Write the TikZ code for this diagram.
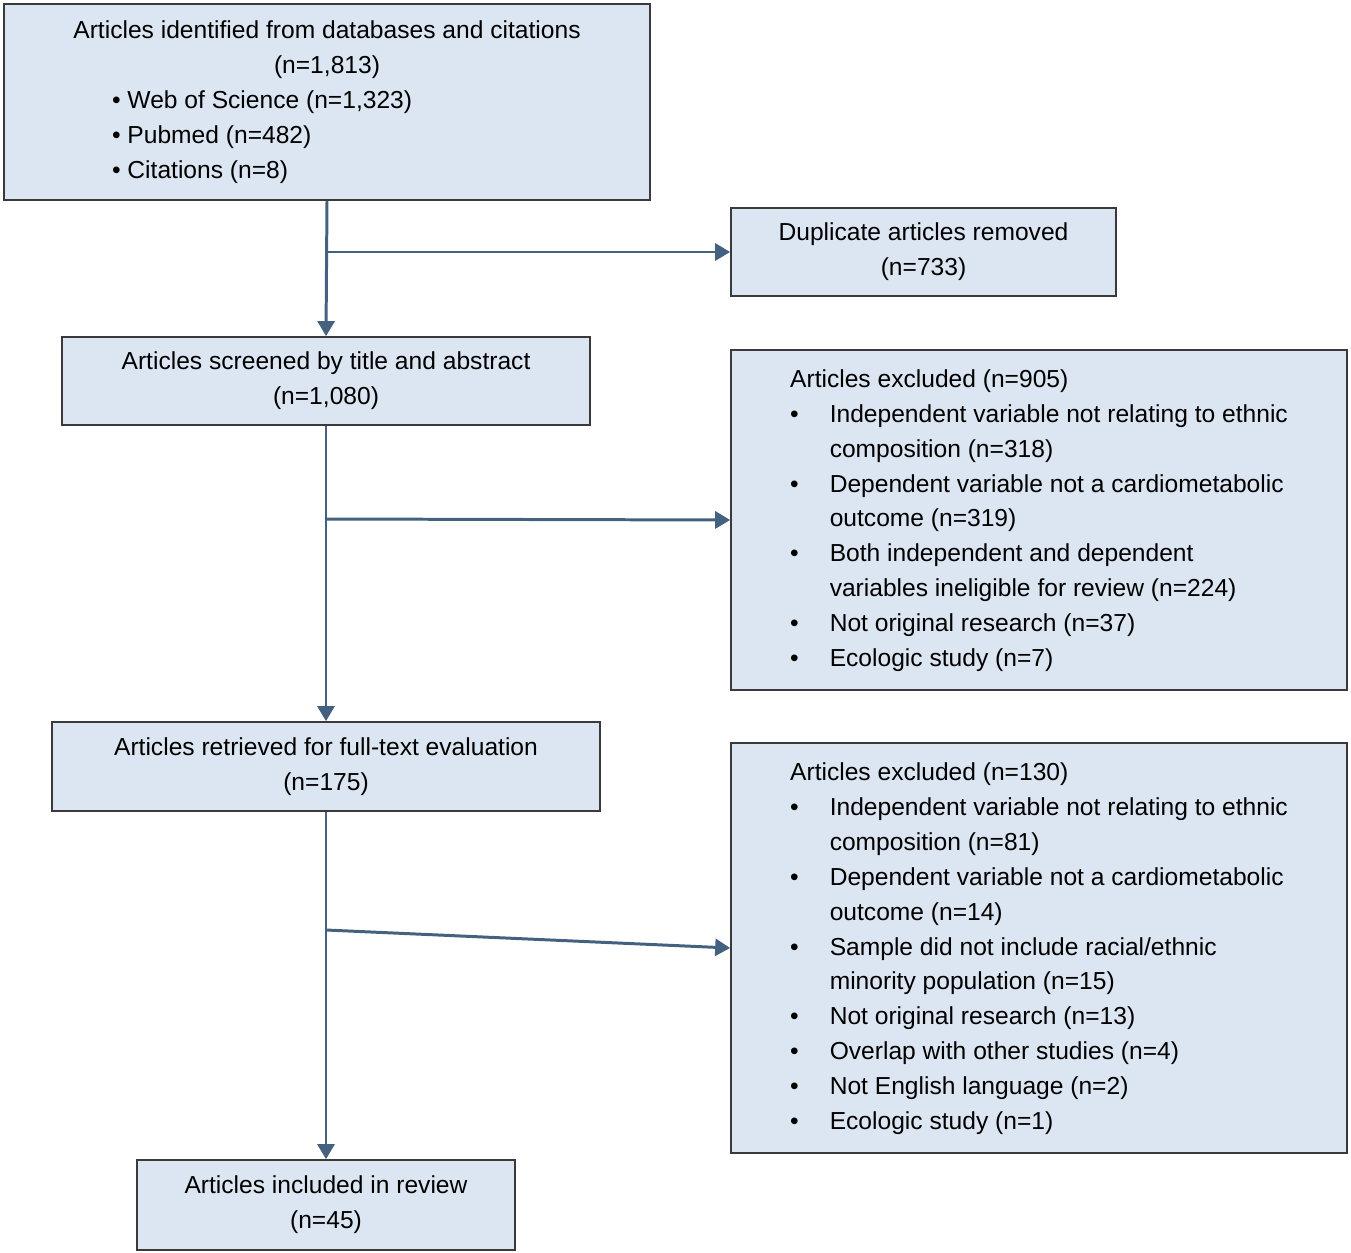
\documentclass[tikz,border=0pt]{standalone}
\usepackage{fontspec}
\setmainfont{Liberation Sans}
\usetikzlibrary{arrows.meta}
\definecolor{boxfill}{HTML}{DCE6F2}
\definecolor{boxline}{HTML}{3A3A3A}
\definecolor{flowline}{HTML}{44627F}
\newcommand{\exclbox}[2]{\renewcommand\arraystretch{1}%
  \begin{tabular}{@{}l@{\hspace{0.62cm}}l@{}}\multicolumn{2}{@{}l}{#1}\\#2\end{tabular}}
\begin{document}
\begin{tikzpicture}[x=0.02cm,y=-0.02cm]
  \tikzstyle{flow_box}   = [shape = rectangle, draw = boxline, fill = boxfill, line width=1pt, inner sep=0pt,
                            font=\fontsize{14}{19.9}\selectfont, align=center]
  \tikzstyle{flow_arrow} = [draw = flowline, line width=1.7pt, -{Triangle[width=0.34cm,length=0.3cm]}]

  \useasboundingbox (0,0) rectangle (1351,1253);

  \node[flow_box, minimum width=12.92cm, minimum height=3.92cm] at (327,102) (ident)
    {Articles identified from databases and citations\\
     (n=1,813)\\
     \makebox[12.5cm][l]{\hspace{1.95cm}\textbullet\ Web of Science (n=1,323)}\\
     \makebox[12.5cm][l]{\hspace{1.95cm}\textbullet\ Pubmed (n=482)}\\
     \makebox[12.5cm][l]{\hspace{1.95cm}\textbullet\ Citations (n=8)}};

  \node[flow_box, minimum width=7.7cm, minimum height=1.76cm] at (923.5,252) (dupl)
    {Duplicate articles removed\\(n=733)};

  \node[flow_box, minimum width=10.56cm, minimum height=1.76cm] at (326,381) (screen)
    {Articles screened by title and abstract\\(n=1,080)};

  \node[flow_box, minimum width=12.32cm, minimum height=6.8cm] at (1039,520) (excl_a)
    {\exclbox{Articles excluded (n=905)}{%
      \textbullet & Independent variable not relating to ethnic\\
                  & composition (n=318)\\
      \textbullet & Dependent variable not a cardiometabolic\\
                  & outcome (n=319)\\
      \textbullet & Both independent and dependent\\
                  & variables ineligible for review (n=224)\\
      \textbullet & Not original research (n=37)\\
      \textbullet & Ecologic study (n=7)}};

  \node[flow_box, minimum width=10.96cm, minimum height=1.78cm] at (326,766.5) (fulltext)
    {Articles retrieved for full-text evaluation\\(n=175)};

  \node[flow_box, minimum width=12.32cm, minimum height=8.2cm] at (1039,948) (excl_b)
    {\exclbox{Articles excluded (n=130)}{%
      \textbullet & Independent variable not relating to ethnic\\
                  & composition (n=81)\\
      \textbullet & Dependent variable not a cardiometabolic\\
                  & outcome (n=14)\\
      \textbullet & Sample did not include racial/ethnic\\
                  & minority population (n=15)\\
      \textbullet & Not original research (n=13)\\
      \textbullet & Overlap with other studies (n=4)\\
      \textbullet & Not English language (n=2)\\
      \textbullet & Ecologic study (n=1)}};

  \node[flow_box, minimum width=7.56cm, minimum height=1.8cm] at (326,1205) (incl)
    {Articles included in review\\(n=45)};

  \coordinate (br1) at (326,252);
  \coordinate (br2) at (326,519);
  \coordinate (br3) at (326,930);

  \draw[flow_arrow] (ident.south)    -- (screen.north);
  \draw[flow_arrow] (screen.south)   -- (fulltext.north);
  \draw[flow_arrow] (fulltext.south) -- (incl.north);
  \draw[flow_arrow] (br1) -- (dupl.west);
  \draw[flow_arrow] (br2) -- (excl_a.west);
  \draw[flow_arrow] (br3) -- (excl_b.west);
\end{tikzpicture}
\end{document}
